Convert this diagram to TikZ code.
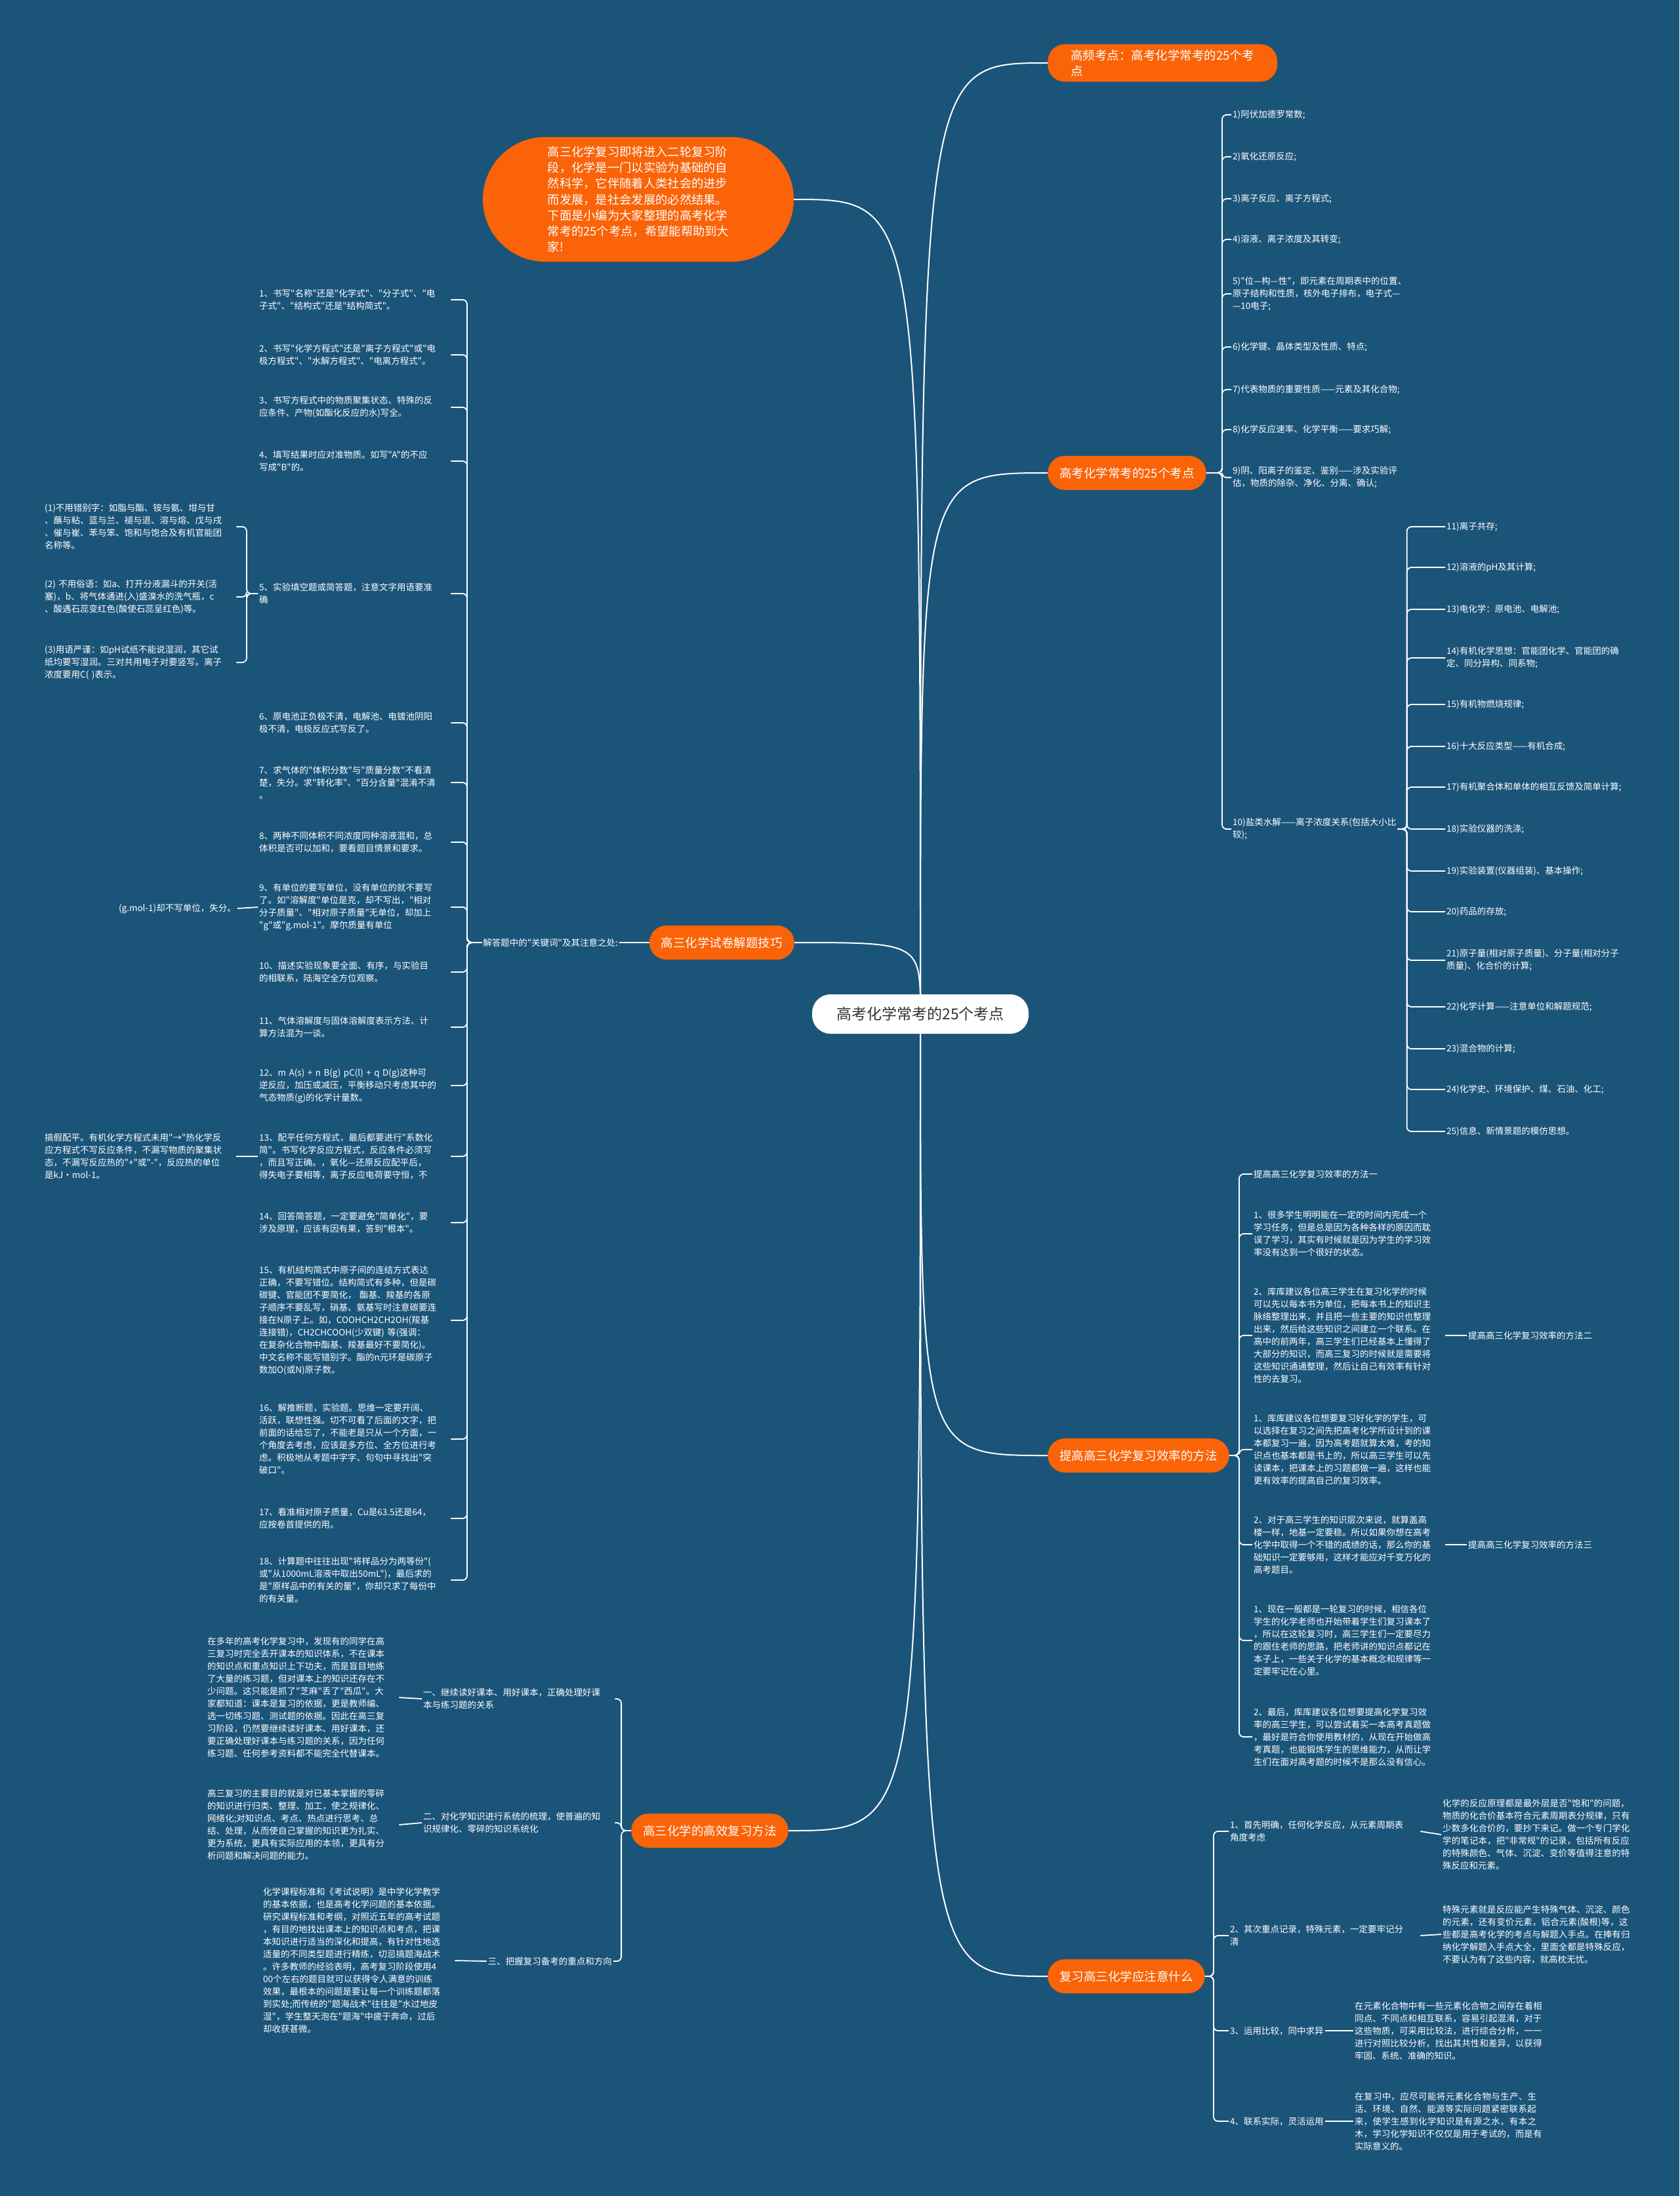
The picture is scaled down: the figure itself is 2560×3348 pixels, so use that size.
\documentclass[tikz,border=0pt]{standalone}
\usepackage{fontspec}
\newfontfamily\cjk{Noto Sans CJK SC}
\usetikzlibrary{shapes.misc}
\definecolor{bgc}{RGB}{27,84,121}
\definecolor{org}{RGB}{250,99,8}
\definecolor{ctext}{RGB}{50,50,50}
\newcommand\cjkbrk{\XeTeXlinebreaklocale "zh"\XeTeXlinebreakskip=0pt plus 1pt\relax}
\newcommand\cjknobrk{\XeTeXlinebreaklocale ""\relax}
\newcommand\leaffont{\cjk\fontsize{13.5}{19}\selectfont}
\pgfdeclarelayer{bgl}\pgfdeclarelayer{edges}\pgfsetlayers{bgl,edges,main}
\begin{document}
\cjk
\begin{tikzpicture}[x=1pt,y=-1pt,
  leaf/.style={text=white,font=\cjknobrk\leaffont,align=left,inner sep=2pt},
  lw/.style={leaf,text width=290pt},
  pw/.style={leaf,text width=288pt,font=\cjkbrk\leaffont},
  topic/.style={rectangle,rounded corners=26pt,fill=org,text=white,font=\cjk\fontsize{18.5}{24}\selectfont,
     minimum height=52pt,inner xsep=18pt,inner ysep=8pt,align=left},
  centre/.style={rectangle,rounded corners=28pt,fill=white,text=ctext,font=\cjk\fontsize{23}{28}\selectfont,
     minimum width=330pt,minimum height=60pt},
  bubble/.style={rectangle,rounded corners=95pt,fill=org,text=white,font=\cjk\fontsize{18.3}{24.3}\selectfont,
     minimum width=474pt,minimum height=190pt,align=left},
  mainc/.style={draw=white,line width=2pt},
  conn/.style={draw=white,line width=1.8pt,rounded corners=7pt}
]
\begin{pgfonlayer}{bgl}
\fill[bgc] (0,0) rectangle (2560,3348);
\end{pgfonlayer}

% centre and first-level topics
\node[centre] (C) at (1403,1546) {高考化学常考的25个考点};
\node[bubble] (B) at (973,304) {高三化学复习即将进入二轮复习阶\\段，化学是一门以实验为基础的自\\然科学，它伴随着人类社会的进步\\而发展，是社会发展的必然结果。\\下面是小编为大家整理的高考化学\\常考的25个考点，希望能帮助到大\\家!};
\node[topic,anchor=west,minimum width=350pt] (T0) at (1597,96) {高频考点：高考化学常考的25个考\\点};
\node[topic,anchor=west] (T1) at (1597,721) {高考化学常考的25个考点};
\node[topic,anchor=east] (T2) at (1211,1437) {高三化学试卷解题技巧};
\node[topic,anchor=west] (T3) at (1597,2219) {提高高三化学复习效率的方法};
\node[topic,anchor=east] (T4) at (1202,2791) {高三化学的高效复习方法};
\node[topic,anchor=west] (T5) at (1597,3013) {复习高三化学应注意什么};

% right list 1-10
\node[leaf,anchor=west] (R1) at (1877,175) {1)阿伏加德罗常数;};
\node[leaf,anchor=west] (R2) at (1877,239) {2)氧化还原反应;};
\node[leaf,anchor=west] (R3) at (1877,303) {3)离子反应、离子方程式;};
\node[leaf,anchor=west] (R4) at (1877,365) {4)溶液、离子浓度及其转变;};
\node[leaf,anchor=west] (R5) at (1877,448) {5)"位—构—性"，即元素在周期表中的位置、\\原子结构和性质，核外电子排布，电子式—\\—10电子;};
\node[leaf,anchor=west] (R6) at (1877,529) {6)化学键、晶体类型及性质、特点;};
\node[leaf,anchor=west] (R7) at (1877,594) {7)代表物质的重要性质——元素及其化合物;};
\node[leaf,anchor=west] (R8) at (1877,655) {8)化学反应速率、化学平衡——要求巧解;};
\node[leaf,anchor=west] (R9) at (1877,728) {9)阴、阳离子的鉴定、鉴别——涉及实验评\\估，物质的除杂、净化、分离、确认;};
\node[leaf,anchor=west] (R10) at (1877,1264) {10)盐类水解——离子浓度关系(包括大小比\\较);};
% right list 11-25
\node[leaf,anchor=west] (S11) at (2203,803) {11)离子共存;};
\node[leaf,anchor=west] (S12) at (2203,865) {12)溶液的pH及其计算;};
\node[leaf,anchor=west] (S13) at (2203,929) {13)电化学：原电池、电解池;};
\node[leaf,anchor=west] (S14) at (2203,1003) {14)有机化学思想：官能团化学、官能团的确\\定、同分异构、同系物;};
\node[leaf,anchor=west] (S15) at (2203,1074) {15)有机物燃烧规律;};
\node[leaf,anchor=west] (S16) at (2203,1138) {16)十大反应类型——有机合成;};
\node[leaf,anchor=west] (S17) at (2203,1200) {17)有机聚合体和单体的相互反馈及简单计算;};
\node[leaf,anchor=west] (S18) at (2203,1264) {18)实验仪器的洗涤;};
\node[leaf,anchor=west] (S19) at (2203,1328) {19)实验装置(仪器组装)、基本操作;};
\node[leaf,anchor=west] (S20) at (2203,1390) {20)药品的存放;};
\node[leaf,anchor=west] (S21) at (2203,1464) {21)原子量(相对原子质量)、分子量(相对分子\\质量)、化合价的计算;};
\node[leaf,anchor=west] (S22) at (2203,1535) {22)化学计算——注意单位和解题规范;};
\node[leaf,anchor=west] (S23) at (2203,1599) {23)混合物的计算;};
\node[leaf,anchor=west] (S24) at (2203,1661) {24)化学史、环境保护、煤、石油、化工;};
\node[leaf,anchor=west] (S25) at (2203,1725) {25)信息、新情景题的模仿思想。};

% left list
\node[leaf,anchor=east] (KW) at (944,1437) {解答题中的"关键词"及其注意之处:};
\node[lw,anchor=west] (L1) at (393,457) {1、书写"名称"还是"化学式"、"分子式"、"电\\子式"、"结构式"还是"结构简式"。};
\node[lw,anchor=west] (L2) at (393,541) {2、书写"化学方程式"还是"离子方程式"或"电\\极方程式"、"水解方程式"、"电离方程式"。};
\node[lw,anchor=west] (L3) at (393,621) {3、书写方程式中的物质聚集状态、特殊的反\\应条件、产物(如酯化反应的水)写全。};
\node[lw,anchor=west] (L4) at (393,703) {4、填写结果时应对准物质。如写"A"的不应\\写成"B"的。};
\node[lw,anchor=west] (L5) at (393,905) {5、实验填空题或简答题，注意文字用语要准\\确};
\node[lw,anchor=west] (L6) at (393,1102) {6、原电池正负极不清，电解池、电镀池阴阳\\极不清，电极反应式写反了。};
\node[lw,anchor=west] (L7) at (393,1193) {7、求气体的"体积分数"与"质量分数"不看清\\楚，失分。求"转化率"、"百分含量"混淆不清\\。};
\node[lw,anchor=west] (L8) at (393,1284) {8、两种不同体积不同浓度同种溶液混和，总\\体积是否可以加和，要看题目情景和要求。};
\node[lw,anchor=west] (L9) at (393,1383) {9、有单位的要写单位，没有单位的就不要写\\了。如"溶解度"单位是克，却不写出，"相对\\分子质量"、"相对原子质量"无单位，却加上\\"g"或"g.mol-1"。摩尔质量有单位};
\node[lw,anchor=west] (L10) at (393,1482) {10、描述实验现象要全面、有序，与实验目\\的相联系，陆海空全方位观察。};
\node[lw,anchor=west] (L11) at (393,1566) {11、气体溶解度与固体溶解度表示方法、计\\算方法混为一谈。};
\node[lw,anchor=west] (L12) at (393,1655) {12、m A(s) + n B(g) pC(l) + q D(g)这种可\\逆反应，加压或减压，平衡移动只考虑其中的\\气态物质(g)的化学计量数。};
\node[lw,anchor=west] (L13) at (393,1763) {13、配平任何方程式，最后都要进行"系数化\\简"。书写化学反应方程式，反应条件必须写\\，而且写正确。，氧化—还原反应配平后，\\得失电子要相等，离子反应电荷要守恒，不};
\node[lw,anchor=west] (L14) at (393,1864) {14、回答简答题，一定要避免"简单化"，要\\涉及原理，应该有因有果，答到"根本"。};
\node[lw,anchor=west] (L15) at (393,2013) {15、有机结构简式中原子间的连结方式表达\\正确，不要写错位。结构简式有多种，但是碳\\碳键、官能团不要简化， 酯基、羧基的各原\\子顺序不要乱写，硝基、氨基写时注意碳要连\\接在N原子上。如，COOHCH2CH2OH(羧基\\连接错)，CH2CHCOOH(少双键) 等(强调：\\在复杂化合物中酯基、羧基最好不要简化)。\\中文名称不能写错别字。酯的n元环是碳原子\\数加O(或N)原子数。};
\node[lw,anchor=west] (L16) at (393,2194) {16、解推断题，实验题。思维一定要开阔、\\活跃，联想性强。切不可看了后面的文字，把\\前面的话给忘了，不能老是只从一个方面，一\\个角度去考虑，应该是多方位、全方位进行考\\虑。积极地从考题中字字、句句中寻找出"突\\破口"。};
\node[lw,anchor=west] (L17) at (393,2315) {17、看准相对原子质量，Cu是63.5还是64，\\应按卷首提供的用。};
\node[lw,anchor=west] (L18) at (393,2409) {18、计算题中往往出现"将样品分为两等份"(\\或"从1000mL溶液中取出50mL")，最后求的\\是"原样品中的有关的量"，你却只求了每份中\\的有关量。};
% far left
\node[lw,anchor=west] (A1) at (66,803) {(1)不用错别字：如脂与酯、铵与氨、坩与甘\\、蘸与粘、蓝与兰、褪与退、溶与熔、戊与戌\\、催与崔、苯与笨、饱和与饱合及有机官能团\\名称等。};
\node[lw,anchor=west] (A2) at (66,910) {(2) 不用俗语：如a、打开分液漏斗的开关(活\\塞)，b、将气体通进(入)盛溴水的洗气瓶，c\\、酸遇石蕊变红色(酸使石蕊呈红色)等。};
\node[lw,anchor=west] (A3) at (66,1010) {(3)用语严谨：如pH试纸不能说湿润，其它试\\纸均要写湿润。三对共用电子对要竖写。离子\\浓度要用C( )表示。};
\node[leaf,anchor=east] (G9) at (362,1385) {(g.mol-1)却不写单位，失分。};
\node[lw,anchor=west] (G13) at (66,1763) {搞假配平。有机化学方程式未用"→"热化学反\\应方程式不写反应条件，不漏写物质的聚集状\\态，不漏写反应热的"+"或"-"，反应热的单位\\是kJ·mol-1。};

% bottom left
\node[lw,anchor=west] (E1) at (643,2590) {一、继续读好课本、用好课本，正确处理好课\\本与练习题的关系};
\node[lw,anchor=west] (E2) at (643,2779) {二、对化学知识进行系统的梳理，使普遍的知\\识规律化、零碎的知识系统化};
\node[leaf,anchor=east] (E3) at (935,2990) {三、把握复习备考的重点和方向};
\node[lw,anchor=west] (F1) at (314,2588) {在多年的高考化学复习中，发现有的同学在高\\三复习时完全丢开课本的知识体系，不在课本\\的知识点和重点知识上下功夫，而是盲目地练\\了大量的练习题，但对课本上的知识还存在不\\少问题。这只能是抓了"芝麻"丢了"西瓜"。大\\家都知道：课本是复习的依据，更是教师编、\\选一切练习题、测试题的依据。因此在高三复\\习阶段，仍然要继续读好课本、用好课本，还\\要正确处理好课本与练习题的关系，因为任何\\练习题、任何参考资料都不能完全代替课本。};
\node[lw,anchor=west] (F2) at (314,2782) {高三复习的主要目的就是对已基本掌握的零碎\\的知识进行归类、整理、加工，使之规律化、\\网络化;对知识点、考点、热点进行思考、总\\结、处理，从而使自己掌握的知识更为扎实、\\更为系统，更具有实际应用的本领，更具有分\\析问题和解决问题的能力。};
\node[lw,anchor=west] (F3) at (399,2989) {化学课程标准和《考试说明》是中学化学教学\\的基本依据，也是高考化学问题的基本依据。\\研究课程标准和考纲，对照近五年的高考试题\\，有目的地找出课本上的知识点和考点，把课\\本知识进行适当的深化和提高，有针对性地选\\适量的不同类型题进行精练，切忌搞题海战术\\。许多教师的经验表明，高考复习阶段使用4\\00个左右的题目就可以获得令人满意的训练\\效果，最根本的问题是要让每一个训练题都落\\到实处;而传统的"题海战术"往往是"水过地皮\\湿"，学生整天泡在"题海"中疲于奔命，过后\\却收获甚微。};

% right middle
\node[leaf,anchor=west] (M0) at (1909,1790) {提高高三化学复习效率的方法一};
\node[lw,anchor=west] (M1) at (1909,1881) {1、很多学生明明能在一定的时间内完成一个\\学习任务，但是总是因为各种各样的原因而耽\\误了学习，其实有时候就是因为学生的学习效\\率没有达到一个很好的状态。};
\node[lw,anchor=west] (M2) at (1909,2036) {2、库库建议各位高三学生在复习化学的时候\\可以先以每本书为单位，把每本书上的知识主\\脉络整理出来，并且把一些主要的知识也整理\\出来，然后给这些知识之间建立一个联系。在\\高中的前两年，高三学生们已经基本上懂得了\\大部分的知识，而高三复习的时候就是需要将\\这些知识通通整理，然后让自己有效率有针对\\性的去复习。};
\node[lw,anchor=west] (M3) at (1909,2210) {1、库库建议各位想要复习好化学的学生，可\\以选择在复习之间先把高考化学所设计到的课\\本都复习一遍，因为高考题就算太难，考的知\\识点也基本都是书上的，所以高三学生可以先\\读课本，把课本上的习题都做一遍，这样也能\\更有效率的提高自己的复习效率。};
\node[lw,anchor=west] (M4) at (1909,2355) {2、对于高三学生的知识层次来说，就算盖高\\楼一样，地基一定要稳。所以如果你想在高考\\化学中取得一个不错的成绩的话，那么你的基\\础知识一定要够用，这样才能应对千变万化的\\高考题目。};
\node[lw,anchor=west] (M5) at (1909,2501) {1、现在一般都是一轮复习的时候，相信各位\\学生的化学老师也开始带着学生们复习课本了\\，所以在这轮复习时，高三学生们一定要尽力\\的跟住老师的思路，把老师讲的知识点都记在\\本子上，一些关于化学的基本概念和规律等一\\定要牢记在心里。};
\node[lw,anchor=west] (M6) at (1909,2648) {2、最后，库库建议各位想要提高化学复习效\\率的高三学生，可以尝试着买一本高考真题做\\，最好是符合你使用教材的，从现在开始做高\\考真题，也能锻炼学生的思维能力，从而让学\\生们在面对高考题的时候不是那么没有信心。};
\node[leaf,anchor=west] (Q2) at (2236,2036) {提高高三化学复习效率的方法二};
\node[leaf,anchor=west] (Q3) at (2236,2355) {提高高三化学复习效率的方法三};

% bottom right
\node[pw,anchor=west] (K1) at (1873,2792) {1、首先明确，任何化学反应，从元素周期表\\角度考虑};
\node[pw,anchor=west] (K2) at (1873,2951) {2、其次重点记录，特殊元素，一定要牢记分\\清};
\node[leaf,anchor=west] (K3) at (1873,3096) {3、运用比较，同中求异};
\node[leaf,anchor=west] (K4) at (1873,3234) {4、联系实际，灵活运用};
\node[pw,anchor=west] (H1) at (2197,2797) {化学的反应原理都是最外层是否"饱和"的问题，物质的化合价基本符合元素周期表分规律，只有少数多化合价的，要抄下来记。做一个专门学化学的笔记本，把"非常规"的记录，包括所有反应的特殊颜色、气体、沉淀、变价等值得注意的特殊反应和元素。};
\node[pw,anchor=west] (H2) at (2197,2949) {特殊元素就是反应能产生特殊气体、沉淀、颜色的元素，还有变价元素，铝合元素(酸根)等，这些都是高考化学的考点与解题入手点。在捧有归纳化学解题入手点大全，里面全都是特殊反应，不要认为有了这些内容，就高枕无忧。};
\node[pw,anchor=west] (H3) at (2063,3096) {在元素化合物中有一些元素化合物之间存在着相同点、不同点和相互联系，容易引起混淆，对于这些物质，可采用比较法，进行综合分析，一一进行对照比较分析，找出其共性和差异，以获得牢固、系统、准确的知识。};
\node[pw,anchor=west] (H4) at (2063,3234) {在复习中，应尽可能将元素化合物与生产、生活、环境、自然、能源等实际问题紧密联系起来，使学生感到化学知识是有源之水，有本之木，学习化学知识不仅仅是用于考试的，而是有实际意义的。};

\begin{pgfonlayer}{edges}
\foreach \n in {T0,T1,T3,T5} \draw[mainc] (C.center) .. controls (C.center |- \n.west) .. (\n.west);
\foreach \n in {B,T2,T4} \draw[mainc] (C.center) .. controls (C.center |- \n.east) .. (\n.east);
\foreach \n in {R1,R2,R3,R4,R5,R6,R7,R8,R9,R10} \draw[conn] (T1.east) -- ++(24,0) |- (\n.west);
\foreach \n in {S11,S12,S13,S14,S15,S16,S17,S18,S19,S20,S21,S22,S23,S24,S25} \draw[conn] (R10.east) -- ++(14,0) |- (\n.west);
\draw[conn] (T2.west) -- (KW.east);
\foreach \n in {L1,L2,L3,L4,L5,L6,L7,L8,L9,L10,L11,L12,L13,L14,L15,L16,L17,L18} \draw[conn] (KW.west) -- ++(-22,0) |- (\n.east);
\foreach \n in {A1,A2,A3} \draw[conn] (L5.west) -- ++(-17,0) |- (\n.east);
\draw[conn] (L9.west) -- (G9.east);
\draw[conn] (L13.west) -- (G13.east);
\foreach \n in {E1,E2,E3} \draw[conn] (T4.west) -- ++(-15,0) |- (\n.east);
\draw[conn] (E1.west) -- (F1.east);
\draw[conn] (E2.west) -- (F2.east);
\draw[conn] (E3.west) -- (F3.east);
\foreach \n in {M0,M1,M2,M3,M4,M5,M6} \draw[conn] (T3.east) -- ++(15,0) |- (\n.west);
\draw[conn] (M2.east) -- (Q2.west);
\draw[conn] (M4.east) -- (Q3.west);
\foreach \n in {K1,K2,K3,K4} \draw[conn] (T5.east) -- ++(13,0) |- (\n.west);
\draw[conn] (K1.east) -- (H1.west);
\draw[conn] (K2.east) -- (H2.west);
\draw[conn] (K3.east) -- (H3.west);
\draw[conn] (K4.east) -- (H4.west);
\end{pgfonlayer}
\end{tikzpicture}
\end{document}
